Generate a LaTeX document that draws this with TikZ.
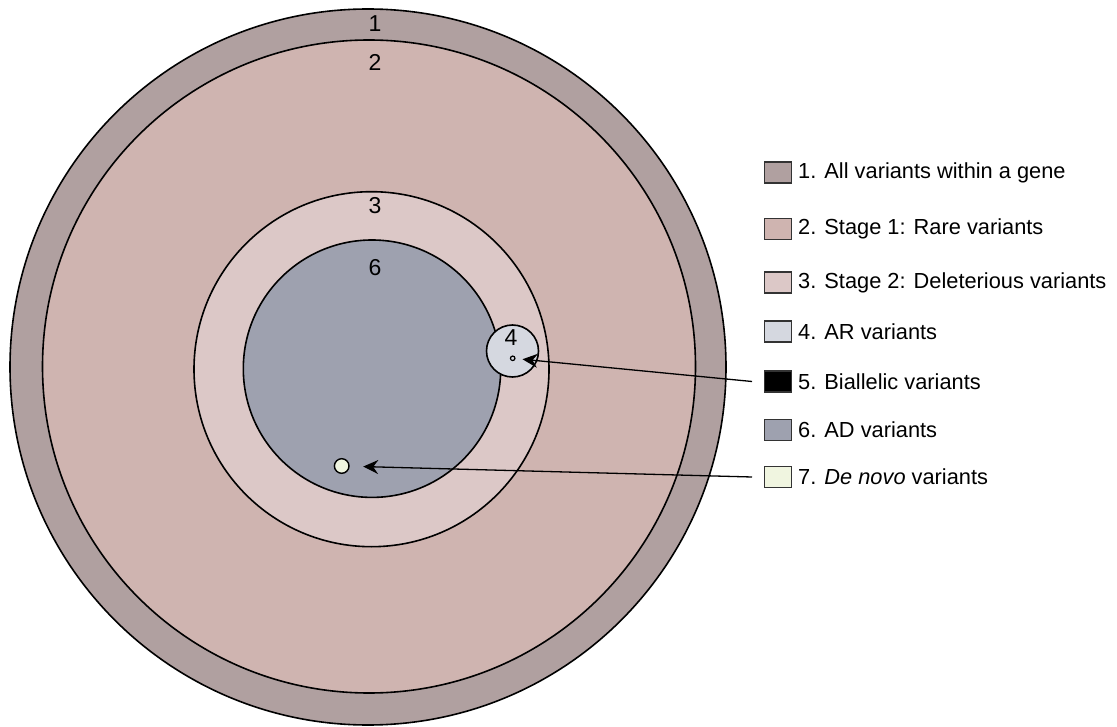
\documentclass[tikz,border=0pt]{standalone}
\usepackage{fontspec}
\setmainfont{Liberation Sans}
\usetikzlibrary{arrows.meta}
\definecolor{cone}{RGB}{176,160,160}
\definecolor{ctwo}{RGB}{207,180,176}
\definecolor{cthree}{RGB}{220,200,199}
\definecolor{cfour}{RGB}{213,216,224}
\definecolor{csix}{RGB}{158,161,175}
\definecolor{cseven}{RGB}{240,245,224}
\tikzset{
  ring/.style={circle, draw=black, line width=1.6pt, inner sep=0pt},
  numlab/.style={font=\fontsize{23}{27}\selectfont, inner sep=0pt},
  legbox/.style={draw=black!80, line width=1.3pt, minimum width=27pt, minimum height=21pt, inner sep=0pt, anchor=west},
  legtext/.style={font=\fontsize{21.8}{26}\selectfont, inner sep=0pt, anchor=west},
  pointer/.style={line width=1.3pt, -{Stealth[length=15pt,width=14pt,inset=5pt]}}
}
\begin{document}
\begin{tikzpicture}[x=1pt,y=-1pt]
\useasboundingbox (0,0) rectangle (1117,727);
% circles
\node[ring, fill=cone, minimum size=716pt] (c1) at (368,367) {};
\node[ring, fill=ctwo, minimum size=653pt] (c2) at (369,366.5) {};
\node[ring, fill=cthree, minimum size=355pt] (c3) at (371.5,369.2) {};
\node[ring, fill=csix, minimum size=257.4pt] (c6) at (372,368.7) {};
\node[ring, fill=cfour, minimum size=52pt] (c4) at (512.5,351) {};
\node[circle, draw=black, line width=1.2pt, fill=cfour, minimum size=4.5pt, inner sep=0pt] (d5) at (512.7,358.3) {};
\node[ring, line width=1.4pt, fill=cseven, minimum size=14.6pt] (d7) at (341.7,466) {};
% numbers
\node[numlab] (n1) at (375,23.5) {1};
\node[numlab] (n2) at (375,62.5) {2};
\node[numlab] (n3) at (375,206) {3};
\node[numlab] (n6) at (375,268) {6};
\node[numlab] (n4) at (511,338) {4};
% legend
\node[legbox, fill=cone] (l1) at (764,172.5) {};
\node[legbox, fill=ctwo] (l2) at (764,229) {};
\node[legbox, fill=cthree] (l3) at (764,282.5) {};
\node[legbox, fill=cfour] (l4) at (764,331.5) {};
\node[legbox, fill=black] (l5) at (764,381.5) {};
\node[legbox, fill=csix] (l6) at (764,430) {};
\node[legbox, fill=cseven] (l7) at (764,477) {};
\node[legtext] (t1) at (798,172.5) {1. All variants within a gene};
\node[legtext] (t2) at (798,229) {2. Stage 1: Rare variants};
\node[legtext] (t3) at (798,282.5) {3. Stage 2: Deleterious variants};
\node[legtext] (t4) at (798,331.5) {4. AR variants};
\node[legtext] (t5) at (798,381.5) {5. Biallelic variants};
\node[legtext] (t6) at (798,430) {6. AD variants};
\node[legtext] (t7) at (798,477) {7. \textit{De novo} variants};
% arrows
\draw[pointer, shorten >=7pt] ([xshift=-12pt]l5.west) -- (d5);
\draw[pointer, shorten >=13.5pt] ([xshift=-12pt]l7.west) -- (d7);
\end{tikzpicture}
\end{document}
